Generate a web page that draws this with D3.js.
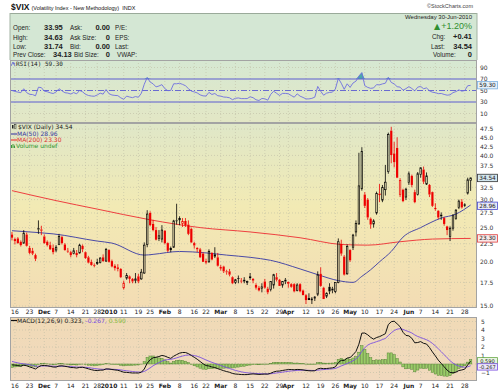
<!DOCTYPE html>
<html><head><meta charset="utf-8">
<script src="https://cdn.jsdelivr.net/npm/d3@7"></script>
<style>body{margin:0;background:#fff;} svg{display:block;font-family:"Liberation Sans",Arial,sans-serif;}</style>
</head><body><svg id="c" width="500" height="392"></svg>
<script>
// ---------------- DATA ----------------
const dates = [
"2009-11-13","2009-11-16","2009-11-17","2009-11-18","2009-11-19","2009-11-20","2009-11-23","2009-11-24","2009-11-25","2009-11-27","2009-11-30",
"2009-12-01","2009-12-02","2009-12-03","2009-12-04","2009-12-07","2009-12-08","2009-12-09","2009-12-10","2009-12-11","2009-12-14","2009-12-15","2009-12-16","2009-12-17","2009-12-18","2009-12-21","2009-12-22","2009-12-23","2009-12-24","2009-12-28","2009-12-29","2009-12-30","2009-12-31",
"2010-01-04","2010-01-05","2010-01-06","2010-01-07","2010-01-08","2010-01-11","2010-01-12","2010-01-13","2010-01-14","2010-01-15","2010-01-19","2010-01-20","2010-01-21","2010-01-22","2010-01-25","2010-01-26","2010-01-27","2010-01-28","2010-01-29",
"2010-02-01","2010-02-02","2010-02-03","2010-02-04","2010-02-05","2010-02-08","2010-02-09","2010-02-10","2010-02-11","2010-02-12","2010-02-16","2010-02-17","2010-02-18","2010-02-19","2010-02-22","2010-02-23","2010-02-24","2010-02-25","2010-02-26",
"2010-03-01","2010-03-02","2010-03-03","2010-03-04","2010-03-05","2010-03-08","2010-03-09","2010-03-10","2010-03-11","2010-03-12","2010-03-15","2010-03-16","2010-03-17","2010-03-18","2010-03-19","2010-03-22","2010-03-23","2010-03-24","2010-03-25","2010-03-26","2010-03-29","2010-03-30","2010-03-31",
"2010-04-01","2010-04-05","2010-04-06","2010-04-07","2010-04-08","2010-04-09","2010-04-12","2010-04-13","2010-04-14","2010-04-15","2010-04-16","2010-04-19","2010-04-20","2010-04-21","2010-04-22","2010-04-23","2010-04-26","2010-04-27","2010-04-28","2010-04-29","2010-04-30",
"2010-05-03","2010-05-04","2010-05-05","2010-05-06","2010-05-07","2010-05-10","2010-05-11","2010-05-12","2010-05-13","2010-05-14","2010-05-17","2010-05-18","2010-05-19","2010-05-20","2010-05-21","2010-05-24","2010-05-25","2010-05-26","2010-05-27","2010-05-28",
"2010-06-01","2010-06-02","2010-06-03","2010-06-04","2010-06-07","2010-06-08","2010-06-09","2010-06-10","2010-06-11","2010-06-14","2010-06-15","2010-06-16","2010-06-17","2010-06-18","2010-06-21","2010-06-22","2010-06-23","2010-06-24","2010-06-25","2010-06-28","2010-06-29","2010-06-30"];

const open = [
23.9,23.2,23.3,22.8,22.6,23.9,21.9,21.5,20.9,24.9,24.7,
23.6,22.8,22.3,21.9,21.6,22.4,23.5,22.4,21.5,21.3,21.1,21.2,21.2,22.2,21.3,20.6,20.0,19.6,19.9,19.9,20.6,20.1,
21.6,20.1,19.5,19.3,19.1,16.9,18.0,18.2,17.9,17.7,18.2,17.9,18.6,22.4,27.5,25.6,24.6,23.3,23.2,
24.5,22.6,21.9,22.0,26.2,26.3,25.7,26.1,25.5,24.8,22.6,21.9,21.7,21.1,20.1,20.0,21.2,21.0,20.6,
19.3,19.4,18.8,18.8,18.1,17.5,18.0,17.7,17.8,17.5,18.2,17.9,17.2,16.9,16.8,17.6,16.8,16.7,17.2,18.1,17.8,17.2,17.8,
17.4,17.3,17.3,16.6,17.3,16.6,16.1,15.8,15.7,15.8,16.2,18.5,16.9,16.0,17.0,16.8,16.5,17.5,22.5,20.7,18.5,
21.6,22.0,24.3,25.6,32.2,31.0,30.0,26.5,25.6,27.5,31.2,29.9,32.0,36.0,47.0,40.5,42.0,31.0,32.0,30.5,
33.5,35.0,31.5,31.0,35.3,36.5,33.2,33.0,31.5,28.4,27.9,27.2,26.6,25.2,23.6,24.9,26.5,28.5,29.6,29.0,31.3,33.95];
const high = [
24.3,23.4,23.5,23.0,24.6,24.2,22.2,21.9,21.1,26.2,25.3,
23.9,23.0,22.8,22.4,22.3,24.0,23.7,22.6,21.9,21.5,21.9,21.6,22.5,22.4,21.4,20.8,20.3,19.8,20.4,20.6,21.0,21.9,
21.7,20.3,19.7,19.7,19.2,17.7,18.6,18.3,18.0,18.6,18.5,19.1,22.7,28.0,27.8,26.3,25.1,24.6,25.4,
24.6,22.7,22.1,26.3,29.2,26.9,26.6,26.6,26.2,25.0,22.8,22.0,21.9,21.3,20.4,21.7,21.3,22.0,21.2,
19.6,19.5,19.0,19.1,18.2,17.9,18.3,18.0,18.1,17.7,18.6,18.0,17.4,17.1,17.4,17.9,17.0,17.6,18.5,18.6,17.9,17.6,18.0,
17.6,17.4,17.4,17.4,17.4,16.7,16.2,16.3,15.9,16.0,18.8,19.3,17.0,16.4,17.4,17.0,17.5,23.3,23.1,20.9,22.4,
21.7,24.0,26.2,40.7,42.2,31.5,30.3,26.7,26.4,31.6,33.2,33.0,37.6,46.4,48.2,43.7,45.0,34.5,32.2,32.4,
36.0,35.3,32.0,35.9,37.0,37.2,35.8,33.2,31.6,29.3,28.0,27.6,26.8,25.3,25.2,27.3,28.2,30.0,30.1,29.3,34.6,34.63];
const low = [
23.0,22.4,22.5,22.1,22.5,22.1,21.0,20.9,20.1,24.0,23.8,
22.5,22.1,21.6,21.0,21.3,22.3,22.4,21.5,21.2,20.6,21.0,20.6,21.1,21.3,20.4,19.8,19.5,19.3,19.6,19.8,20.0,20.0,
19.9,19.3,18.9,18.8,18.0,16.7,17.8,17.4,17.4,17.4,17.4,17.8,18.5,22.0,25.2,24.4,23.0,22.9,22.7,
22.4,21.3,21.3,21.9,25.5,25.4,25.1,25.1,23.8,22.6,21.8,21.3,20.5,20.0,19.7,19.9,20.2,20.5,19.4,
18.9,18.6,18.4,18.2,17.3,17.3,17.4,17.4,17.4,17.2,17.8,17.4,16.7,16.5,16.4,16.8,16.2,16.5,16.8,17.6,17.1,16.9,17.3,
16.9,16.9,16.4,16.5,16.4,16.1,15.2,15.6,15.2,15.5,16.0,17.0,15.7,15.8,16.2,16.3,16.3,17.4,20.8,18.3,18.4,
20.0,21.6,23.6,25.5,31.8,28.4,26.3,24.8,25.0,27.2,29.5,29.5,30.8,35.5,38.0,37.0,34.5,30.5,29.5,29.9,
33.0,32.5,29.3,30.8,34.6,33.2,33.0,30.5,28.6,27.9,26.4,26.3,25.3,23.8,22.9,24.5,26.3,28.2,28.3,28.6,31.0,31.74];
const close = [
23.4,22.9,22.6,22.3,24.1,22.2,21.2,21.1,20.4,24.7,24.5,
22.6,22.3,21.7,21.3,22.0,23.6,22.6,21.6,21.4,20.9,21.5,20.9,22.3,21.7,20.5,19.9,19.6,19.5,19.9,20.5,20.1,21.7,
20.0,19.4,19.2,19.1,18.1,17.4,18.3,17.9,17.6,17.9,17.6,18.7,22.3,27.3,25.4,24.6,23.1,23.7,24.6,
22.6,21.5,21.6,26.1,26.1,26.5,26.0,25.4,24.0,22.7,22.25,21.7,20.6,20.0,19.9,21.4,20.3,20.7,19.5,
19.3,18.8,18.7,18.4,17.4,17.8,17.9,17.6,17.6,17.6,18.0,17.7,16.9,16.6,17.0,16.9,16.4,17.6,18.4,17.8,17.1,17.6,17.6,
17.5,17.0,16.5,17.2,16.5,16.1,15.6,15.6,15.7,15.9,18.4,17.1,15.7,16.3,16.5,16.6,17.5,22.8,21.1,18.4,22.1,
20.2,23.8,25.7,32.8,41.0,28.8,26.7,25.5,26.1,31.2,30.9,32.5,33.6,45.8,40.1,38.3,34.6,34.0,29.7,32.1,
35.5,33.0,29.5,35.5,36.9,33.7,35.0,31.0,28.8,28.2,26.7,26.9,25.6,24.6,24.9,27.0,28.0,29.7,28.5,29.0,34.13,34.54];

const ma50Dates  = ["2009-11-13","2009-11-27","2009-12-04","2009-12-28","2010-01-05","2010-01-21","2010-01-26","2010-02-08","2010-02-22","2010-03-03","2010-03-15","2010-03-24","2010-04-08","2010-04-16","2010-04-27","2010-05-04","2010-05-07","2010-05-12","2010-05-17","2010-05-21","2010-05-27","2010-06-07","2010-06-16","2010-06-23","2010-06-30"];
const ma50Values = [24.5,24.2,24.0,22.9,22.6,20.9,21.0,21.4,21.2,20.9,20.6,20.2,19.1,18.4,17.7,17.5,18.2,19.0,20.0,21.4,23.5,25.0,26.6,27.3,28.96];
const ma200Dates  = ["2009-11-13","2009-12-07","2009-12-28","2010-01-25","2010-02-18","2010-03-15","2010-04-08","2010-04-28","2010-05-11","2010-05-26","2010-06-11","2010-06-30"];
const ma200Values = [31.8,29.8,28.2,26.3,25.0,24.3,23.4,22.4,22.3,22.8,23.2,23.3];

const priceTicks = [15,17.5,20,22.5,25,27.5,30,32.5,35,37.5,40,42.5,45,47.5];
const priceTickHidden = [35];           // covered by the last-price box in the reference
const rsiTicks = [10,30,50,70,90];
const macdTicks = [-1,0,1,2,3,4,5];
const xTickDates = ["2009-11-16","2009-11-23","2009-12-01","2009-12-07","2009-12-14","2009-12-21","2009-12-28","2010-01-04","2010-01-11","2010-01-19","2010-01-25","2010-02-01","2010-02-08","2010-02-16","2010-02-22","2010-03-01","2010-03-08","2010-03-15","2010-03-22","2010-03-29","2010-04-01","2010-04-12","2010-04-19","2010-04-26","2010-05-03","2010-05-10","2010-05-17","2010-05-24","2010-06-01","2010-06-07","2010-06-14","2010-06-21","2010-06-28"];
const xTickLabels = ["16","23","Dec","7","14","21","28","2010","11","19","25","Feb","8","16","22","Mar","8","15","22","29","Apr","12","19","26","May","10","17","24","Jun","7","14","21","28"];
const boldLabels = ["Dec","2010","Feb","Mar","Apr","May","Jun"];

const lastRSI = 59.30, lastMA50 = 28.96, lastMA200 = 23.30;
const macdLegend = [0.323, -0.267, 0.590];
const macdSeed = {macd:-0.1, signal:0.3};

// ---------------- LAYOUT ----------------
const L = 10, R = 477;
const rsiTop = 60, rsiBot = 123, mainTop = 123, mainBot = 308, macdTop = 317, macdBot = 381;
const svg = d3.select('#c');
svg.append('rect').attr('width',500).attr('height',392).attr('fill','#fff');
const defs = svg.append('defs');
function grad(id, stops){ const g=defs.append('linearGradient').attr('id',id).attr('x1',0).attr('y1',0).attr('x2',0).attr('y2',1); stops.forEach(([o,c])=>g.append('stop').attr('offset',o).attr('stop-color',c)); }
grad('gRsi', [[0,'#d6e8d2'],[1,'#e3e7c5']]);
grad('gMain', [[0,'#dfe7c8'],[0.45,'#f2eab4'],[1,'#f3dcb4']]);
grad('gMacd', [[0,'#f0dab6'],[1,'#f1d9be']]);
[['cRsi',rsiTop,rsiBot],['cMain',mainTop,mainBot],['cMacd',macdTop,macdBot]].forEach(([id,t,b])=>{
  defs.append('clipPath').attr('id',id).append('rect').attr('x',L).attr('y',t).attr('width',R-L).attr('height',b-t);
});

const x = d3.scaleBand().domain(dates).range([10.5, 472.1]).paddingInner(0);
const cx = d => x(d) + x.bandwidth()/2;
const yR = d3.scaleLinear().domain([0,100]).range([119.25, 61.75]);
const yP = d3.scaleLog().domain([14.81, 49.4]).range([mainBot, mainTop]);
const yM = d3.scaleLinear().domain([-2, 5.6]).range([macdBot, macdBot - 7.6*8.5]);

// ---------------- HEADER ----------------
svg.append('rect').attr('x',L).attr('y',13).attr('width',R-L).attr('height',rsiTop-13).attr('fill','#d4e7d4');
svg.append('line').attr('x1',L).attr('x2',R).attr('y1',13.5).attr('y2',13.5).attr('stroke','#9aaa9a');
const t0 = svg.append('text').attr('x',11).attr('y',10).attr('fill','#111');
t0.append('tspan').attr('font-weight','bold').attr('font-size',8.5).text('$VIX');
t0.append('tspan').attr('font-size',5.5).attr('dx',2).text('(Volatility Index - New Methodology)');
t0.append('tspan').attr('font-size',5.5).attr('dx',3).text('INDX');
svg.append('text').attr('x',473).attr('y',8).attr('text-anchor','end').attr('font-size',5.5).attr('fill','#444').text('©StockCharts.com');

function lab(xx,yy,txt,opt={}){
  const t = svg.append('text').attr('x',xx).attr('y',yy).attr('font-size',opt.size||6.3).attr('fill',opt.fill||'#222').text(txt);
  if(opt.bold) t.attr('font-weight','bold');
  if(opt.anchor) t.attr('text-anchor',opt.anchor);
  return t;
}
const rows = [30,39.5,48.5,57];
lab(13,rows[0],'Open:'); lab(44,rows[0],'33.95',{bold:1,size:7.5});
lab(13,rows[1],'High:'); lab(44,rows[1],'34.63',{bold:1,size:7.5});
lab(13,rows[2],'Low:');  lab(44,rows[2],'31.74',{bold:1,size:7.5});
lab(13,rows[3],'Prev Close:'); lab(53,rows[3],'34.13',{bold:1,size:7.5});
lab(70,rows[0],'Ask:'); lab(110,rows[0],'0.00',{bold:1,size:7.5,anchor:'end'});
lab(70,rows[1],'Ask Size:'); lab(110,rows[1],'0',{bold:1,size:7.5,anchor:'end'});
lab(70,rows[2],'Bid:'); lab(110,rows[2],'0.00',{bold:1,size:7.5,anchor:'end'});
lab(74,rows[3],'Bid Size:'); lab(110,rows[3],'0',{bold:1,size:7.5,anchor:'end'});
lab(115,rows[0],'P/E:'); lab(115,rows[1],'EPS:'); lab(115,rows[2],'Last:'); lab(117,rows[3],'VWAP:');
lab(472,18.5,'Wednesday  30-Jun-2010',{anchor:'end',size:6});
const pc = svg.append('text').attr('x',472).attr('y',28.5).attr('text-anchor','end').attr('font-size',9).attr('fill','#2f8f2f');
pc.append('tspan').attr('font-family','DejaVu Sans').attr('font-size',8).text('▲');
pc.append('tspan').attr('dx',1).text('+1.20%');
lab(432,39,'Chg:'); lab(472,39,'+0.41',{bold:1,size:7.5,anchor:'end'});
lab(431,48.5,'Last:'); lab(472,48.5,'34.54',{bold:1,size:7.5,anchor:'end'});
lab(433,57,'Volume:'); lab(472,57,'0',{bold:1,size:7.5,anchor:'end'});

// ---------------- PANELS ----------------
svg.append('rect').attr('x',L).attr('y',rsiTop).attr('width',R-L).attr('height',rsiBot-rsiTop).attr('fill','url(#gRsi)');
svg.append('rect').attr('x',L).attr('y',mainTop).attr('width',R-L).attr('height',mainBot-mainTop).attr('fill','url(#gMain)');
svg.append('rect').attr('x',L).attr('y',macdTop).attr('width',R-L).attr('height',macdBot-macdTop).attr('fill','url(#gMacd)');

const gridC = '#bdbca4';
function vgrid(t,b){
  svg.append('g').selectAll('line').data(xTickDates).join('line')
    .attr('x1',d=>cx(d)).attr('x2',d=>cx(d)).attr('y1',t).attr('y2',b)
    .attr('stroke',gridC).attr('stroke-width',0.6).attr('stroke-dasharray','1,2');
}
vgrid(rsiTop,rsiBot); vgrid(mainTop,mainBot); vgrid(macdTop,macdBot);
function hgrid(vals, sc){
  svg.append('g').selectAll('line').data(vals).join('line')
    .attr('x1',L).attr('x2',R).attr('y1',d=>sc(d)).attr('y2',d=>sc(d))
    .attr('stroke',gridC).attr('stroke-width',0.6).attr('stroke-dasharray','1,2');
}
hgrid([10,90], yR); hgrid(priceTicks, yP); hgrid(macdTicks, yM);

// ---------------- RSI ----------------
const rsi = [];
{ let ag = 0.55, al = 0.55;
  close.forEach((c,i)=>{
    if(i>0){ const ch = c - close[i-1]; ag = (ag*13 + Math.max(ch,0))/14; al = (al*13 + Math.max(-ch,0))/14; }
    rsi.push(100 - 100/(1 + ag/al));
  });
}
const gR = svg.append('g').attr('clip-path','url(#cRsi)');
gR.append('path').datum(dates.map((d,i)=>[d,rsi[i]]))
  .attr('d', d3.area().x(d=>cx(d[0])).y0(yR(70)).y1(d=>yR(Math.max(d[1],70))))
  .attr('fill','#4aa8a8');
[30,70].forEach(v=>gR.append('line').attr('x1',L).attr('x2',R).attr('y1',yR(v)).attr('y2',yR(v)).attr('stroke','#5c5cd0').attr('stroke-width',1));
gR.append('line').attr('x1',L).attr('x2',R).attr('y1',yR(50)).attr('y2',yR(50)).attr('stroke','#5c5cd0').attr('stroke-width',0.9).attr('stroke-dasharray','6,2,1,2');
gR.append('path').datum(dates.map((d,i)=>[d,rsi[i]]))
  .attr('d', d3.line().x(d=>cx(d[0])).y(d=>yR(d[1])))
  .attr('fill','none').attr('stroke','#6e6ee0').attr('stroke-width',0.9);
// legend
svg.append('path').attr('d','M11,66 L13,62 L15,66 M13,64 L15,63').attr('stroke','#5c5cd0').attr('fill','none').attr('stroke-width',0.8);
svg.append('text').attr('x',16).attr('y',66).attr('font-family','DejaVu Sans Mono').attr('font-size',6).attr('fill','#222').text('RSI(14) 59.30');

// ---------------- MAIN ----------------
const gP = svg.append('g').attr('clip-path','url(#cMain)');
gP.append('path').datum(ma200Dates.map((d,i)=>[d,ma200Values[i]]))
  .attr('d', d3.line().x(d=>cx(d[0])).y(d=>yP(d[1])).curve(d3.curveMonotoneX))
  .attr('fill','none').attr('stroke','#ee4040').attr('stroke-width',1);
gP.append('path').datum(ma50Dates.map((d,i)=>[d,ma50Values[i]]))
  .attr('d', d3.line().x(d=>cx(d[0])).y(d=>yP(d[1])).curve(d3.curveMonotoneX))
  .attr('fill','none').attr('stroke','#4a4aa6').attr('stroke-width',1);
const candles = dates.map((d,i)=>({d, o:open[i], h:high[i], l:low[i], c:close[i], pc: i>0?close[i-1]:open[i]}));
const bw = 2.2;
const cg = gP.append('g').selectAll('g').data(candles).join('g');
cg.each(function(k){
  const g = d3.select(this);
  const col = k.c >= k.pc ? '#000' : '#ee0000';
  const top = Math.max(k.o,k.c), bot = Math.min(k.o,k.c);
  const X = cx(k.d);
  g.append('line').attr('x1',X).attr('x2',X).attr('y1',yP(k.h)).attr('y2',yP(top)).attr('stroke',col).attr('stroke-width',0.8);
  g.append('line').attr('x1',X).attr('x2',X).attr('y1',yP(bot)).attr('y2',yP(k.l)).attr('stroke',col).attr('stroke-width',0.8);
  const y1 = yP(top), h = Math.max(yP(bot)-y1, 0.8);
  if(k.c < k.o){
    g.append('rect').attr('x',X-bw/2).attr('y',y1).attr('width',bw).attr('height',h).attr('fill',col);
  } else {
    g.append('rect').attr('x',X-bw/2+0.35).attr('y',y1).attr('width',bw-0.7).attr('height',h).attr('fill','none').attr('stroke',col).attr('stroke-width',0.7);
  }
});
// legend
const lg = svg.append('g').attr('font-family','DejaVu Sans').attr('font-size',6);
lg.append('rect').attr('x',12).attr('y',125).attr('width',1.5).attr('height',3.5).attr('fill','#222');
lg.append('rect').attr('x',14.5).attr('y',124.5).attr('width',1.5).attr('height',4).attr('fill','none').attr('stroke','#222').attr('stroke-width',0.5);
lg.append('text').attr('x',18).attr('y',129).attr('fill','#222').text('$VIX (Daily) 34.54');
lg.append('line').attr('x1',11).attr('x2',17).attr('y1',134).attr('y2',134).attr('stroke','#4a4aa6').attr('stroke-width',1.2);
lg.append('text').attr('x',17).attr('y',136).attr('fill','#3a3aa0').text('MA(50) 28.96');
lg.append('line').attr('x1',11).attr('x2',17).attr('y1',140).attr('y2',140).attr('stroke','#ee4040').attr('stroke-width',1.2);
lg.append('text').attr('x',17).attr('y',142).attr('fill','#e03030').text('MA(200) 23.30');
lg.append('path').attr('d','M11.5,148 v-3 M13,148 v-4 M14.5,148 v-2.5').attr('stroke','#3a9a3a').attr('stroke-width',1);
lg.append('text').attr('x',16).attr('y',148).attr('fill','#339933').text('Volume undef');

// ---------------- MACD ----------------
const macd = [], signal = [], hist = [];
{ const k12 = 2/13, k26 = 2/27, k9 = 2/10;
  let e12 = close[0], e26 = close[0] - macdSeed.macd, sg = macdSeed.signal;
  close.forEach((c,i)=>{
    if(i>0){ e12 = c*k12 + e12*(1-k12); e26 = c*k26 + e26*(1-k26); }
    const m = e12 - e26;
    if(i>0) sg = m*k9 + sg*(1-k9);
    macd.push(m); signal.push(sg); hist.push(m - sg);
  });
}
const gM = svg.append('g').attr('clip-path','url(#cMacd)');
gM.append('g').selectAll('rect').data(dates).join('rect')
  .attr('x',d=>cx(d)-1.2).attr('width',2.4)
  .attr('y',(d,i)=>Math.min(yM(0),yM(hist[i]))).attr('height',(d,i)=>Math.abs(yM(hist[i])-yM(0)))
  .attr('fill','#9acb68').attr('stroke','#4f7f2f').attr('stroke-width',0.45);
gM.append('path').datum(dates.map((d,i)=>[d,signal[i]]))
  .attr('d', d3.line().x(d=>cx(d[0])).y(d=>yM(d[1])))
  .attr('fill','none').attr('stroke','#7a4fe0').attr('stroke-width',0.9);
gM.append('path').datum(dates.map((d,i)=>[d,macd[i]]))
  .attr('d', d3.line().x(d=>cx(d[0])).y(d=>yM(d[1])))
  .attr('fill','none').attr('stroke','#111').attr('stroke-width',1);
const ml = svg.append('g').attr('font-family','DejaVu Sans').attr('font-size',6);
ml.append('line').attr('x1',11).attr('x2',17).attr('y1',320.5).attr('y2',320.5).attr('stroke','#111').attr('stroke-width',1.2);
const mt = ml.append('text').attr('x',17).attr('y',322.5);
mt.append('tspan').attr('fill','#222').text('MACD(12,26,9) 0.323,');
mt.append('tspan').attr('fill','#7a4fe0').text(' -0.267,');
mt.append('tspan').attr('fill','#88bb44').text(' 0.590');

// ---------------- BORDERS ----------------
[[rsiTop,rsiBot],[mainTop,mainBot],[macdTop,macdBot]].forEach(([t,b])=>{
  svg.append('rect').attr('x',L+0.5).attr('y',t+0.5).attr('width',R-L-1).attr('height',b-t-1).attr('fill','none').attr('stroke','#a3a3a3').attr('stroke-width',1);
});
svg.append('line').attr('x1',L).attr('x2',L).attr('y1',13).attr('y2',rsiTop).attr('stroke','#a3b3a3');
svg.append('line').attr('x1',R).attr('x2',R).attr('y1',13).attr('y2',rsiTop).attr('stroke','#a3b3a3');

// ---------------- AXES ----------------
function styleAxis(g){ g.select('.domain').remove(); g.selectAll('text').attr('font-family','DejaVu Sans').attr('font-size',6).attr('fill','#333'); }
svg.append('g').attr('transform',`translate(${R},0)`).call(d3.axisRight(yR).tickValues(rsiTicks).tickSize(0).tickPadding(3)).call(styleAxis);
svg.append('g').attr('transform',`translate(${R},0)`).call(d3.axisRight(yP).tickValues(priceTicks.filter(v=>!priceTickHidden.includes(v))).tickFormat(d3.format('.1f')).tickSize(0).tickPadding(3)).call(styleAxis);
svg.append('g').attr('transform',`translate(${R},0)`).call(d3.axisRight(yM).tickValues(macdTicks.filter(v=>v!==0)).tickFormat(d3.format('d')).tickSize(0).tickPadding(4)).call(styleAxis);
function xAxis(yy){
  svg.append('g').attr('transform',`translate(0,${yy})`)
    .call(d3.axisBottom(x).tickValues(xTickDates).tickFormat((d,i)=>xTickLabels[i]).tickSize(0).tickPadding(0))
    .call(g=>{ g.select('.domain').remove();
      g.selectAll('text').attr('font-family','DejaVu Sans').attr('font-size',6).attr('fill','#222')
        .attr('font-weight',(d,i)=>boldLabels.includes(xTickLabels[i])?'bold':'normal'); });
}
xAxis(309.5); xAxis(383.5);

// ---------------- VALUE BOXES ----------------
function vbox(yy, txt, stroke, fill, fs){
  const g = svg.append('g');
  const h = fs ? 6.4 : 7.4;
  const f = fs || 5.8;
  g.append('rect').attr('x',R+0.5).attr('y',yy-h/2).attr('width',20).attr('height',h).attr('fill',fill).attr('stroke',stroke).attr('stroke-width',0.8);
  g.append('text').attr('x',R+10.5).attr('y',yy+f*0.36).attr('text-anchor','middle').attr('font-family','DejaVu Sans').attr('font-size',f).attr('fill','#222').text(txt);
}
vbox(yR(lastRSI), lastRSI.toFixed(2), '#7ab0e0', '#e6f0f8');
vbox(yP(close[close.length-1]), close[close.length-1].toFixed(2), '#333', '#d2e6ee');
vbox(yP(lastMA50) + 0.8, lastMA50.toFixed(2), '#4a4acc', '#e8eaf8');
vbox(yP(lastMA200), lastMA200.toFixed(2), '#e04040', '#f8e8e8');
vbox(yM(0) - 3.2, macdLegend[2].toFixed(3), '#6aaa4a', '#e8f4e0', 5.1);
vbox(yM(0) + 2.9, macdLegend[1].toFixed(3), '#7a4fe0', '#eee8fa', 5.1);
</script></body></html>
